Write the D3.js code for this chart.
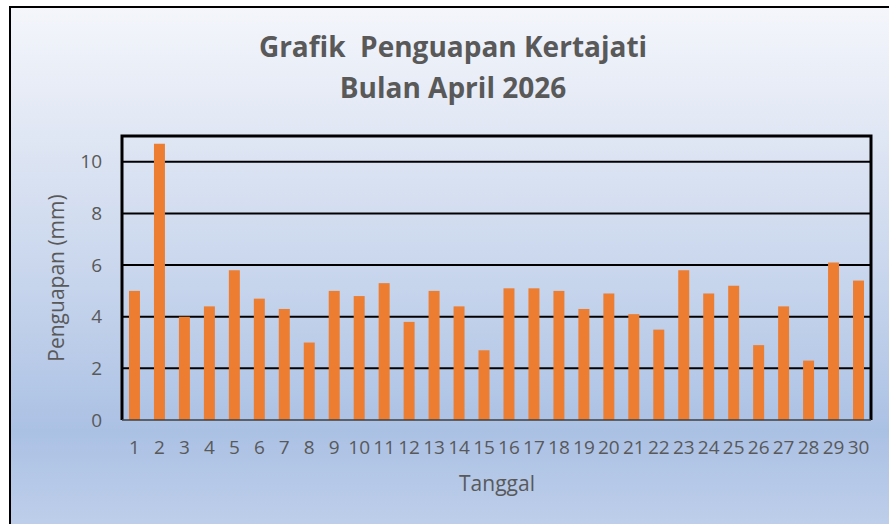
<!DOCTYPE html>
<html>
<head>
<meta charset="utf-8">
<script src="https://cdn.jsdelivr.net/npm/d3@7"></script>
<style>
  body { margin: 0; background: #ffffff; }
  svg { display: block; font-family: 'Open Sans', sans-serif; }
  .graph-title { font-weight: bold; fill: #595959; font-size: 28px; text-anchor: middle; white-space: pre; }
  .axis-label { fill: #595959; font-size: 21px; text-anchor: middle; }
  .tick-label { fill: #595959; font-size: 19px; font-family: 'Open Sans', sans-serif; }
</style>
</head>
<body>
<svg id="bar-svg"></svg>
<script>
// Data: daily evaporation, Kertajati, April 2026
const days = d3.range(1, 31).map(String);
const evaporation = [
  5.0, 10.7, 4.0, 4.4, 5.8, 4.7, 4.3, 3.0, 5.0, 4.8,
  5.3, 3.8, 5.0, 4.4, 2.7, 5.1, 5.1, 5.0, 4.3, 4.9,
  4.1, 3.5, 5.8, 4.9, 5.2, 2.9, 4.4, 2.3, 6.1, 5.4,
];
const yTicks = [0, 2, 4, 6, 8, 10];
const titleLines = ['Grafik  Penguapan Kertajati', 'Bulan April 2026'];

const width = 889;
const height = 524;
const plot = { left: 122, top: 136, right: 871, bottom: 420 };

const svg = d3.select('#bar-svg').attr('width', width).attr('height', height);

function addBackground(g) {
  const grad = g.append('defs')
    .append('linearGradient')
    .attr('id', 'bg-grad')
    .attr('x1', 0).attr('y1', 0).attr('x2', 0).attr('y2', 1);
  grad.append('stop').attr('offset', '0%').attr('stop-color', '#f4f6fb');
  grad.append('stop').attr('offset', '20%').attr('stop-color', '#e3e9f5');
  grad.append('stop').attr('offset', '55%').attr('stop-color', '#c3d2eb');
  grad.append('stop').attr('offset', '78%').attr('stop-color', '#abc1e4');
  grad.append('stop').attr('offset', '100%').attr('stop-color', '#c3d2ec');

  g.append('rect')
    .attr('x', 10).attr('y', 7)
    .attr('width', width + 20).attr('height', height + 20)
    .attr('fill', 'url(#bg-grad)')
    .attr('stroke', '#000')
    .attr('stroke-width', 2);
}

function addTitle(g) {
  g.append('text')
    .attr('class', 'graph-title')
    .selectAll('tspan')
    .data(titleLines)
    .join('tspan')
    .attr('x', 453)
    .attr('y', (d, i) => 57 + i * 41)
    .text((d) => d);
}

function addLabels(g) {
  // X label
  g.append('text')
    .attr('class', 'axis-label')
    .attr('x', 497)
    .attr('y', 491)
    .text('Tanggal');
  // Y label
  g.append('text')
    .attr('class', 'axis-label')
    .attr('transform', 'translate(64, 278) rotate(-90)')
    .text('Penguapan (mm)');
}

const xScale = d3.scaleBand()
  .domain(days)
  .range([plot.left, plot.right])
  .paddingInner(0.56)
  .paddingOuter(0.28);

const yScale = d3.scaleLinear()
  .domain([0, 11])
  .range([plot.bottom, plot.top]);

addBackground(svg);
addTitle(svg);
addLabels(svg);

// Gridlines
svg.append('g')
  .selectAll('line')
  .data(yTicks.filter((t) => t > 0))
  .join('line')
  .attr('x1', plot.left).attr('x2', plot.right)
  .attr('y1', (d) => yScale(d)).attr('y2', (d) => yScale(d))
  .attr('stroke', '#000')
  .attr('stroke-width', 2);

// Y axis (labels only, line drawn with frame)
const yAxis = svg.append('g')
  .attr('transform', `translate(${plot.left},0)`)
  .call(d3.axisLeft(yScale).tickValues(yTicks).tickSize(0).tickPadding(20));
yAxis.attr('font-family', null).attr('font-size', null);
yAxis.select('.domain').remove();
yAxis.selectAll('text').attr('class', 'tick-label');

// X axis
const xAxis = svg.append('g')
  .attr('transform', `translate(0,${plot.bottom})`)
  .call(d3.axisBottom(xScale).tickSize(0).tickPadding(21));
xAxis.attr('font-family', null).attr('font-size', null);
xAxis.select('.domain').remove();
xAxis.selectAll('text').attr('class', 'tick-label');

// Bars
svg.append('g')
  .selectAll('rect')
  .data(evaporation)
  .join('rect')
  .attr('x', (d, i) => xScale(days[i]))
  .attr('y', (d) => yScale(d))
  .attr('width', xScale.bandwidth())
  .attr('height', (d) => yScale(0) - yScale(d))
  .attr('fill', '#ed7d31');

// Plot frame
svg.append('path')
  .attr('d', `M${plot.left},${plot.bottom}V${plot.top}H${plot.right}V${plot.bottom}`)
  .attr('fill', 'none')
  .attr('stroke', '#000')
  .attr('stroke-width', 3);
svg.append('line')
  .attr('x1', plot.left).attr('x2', plot.right)
  .attr('y1', plot.bottom).attr('y2', plot.bottom)
  .attr('stroke', '#404040')
  .attr('stroke-width', 1.5);
</script>
</body>
</html>
